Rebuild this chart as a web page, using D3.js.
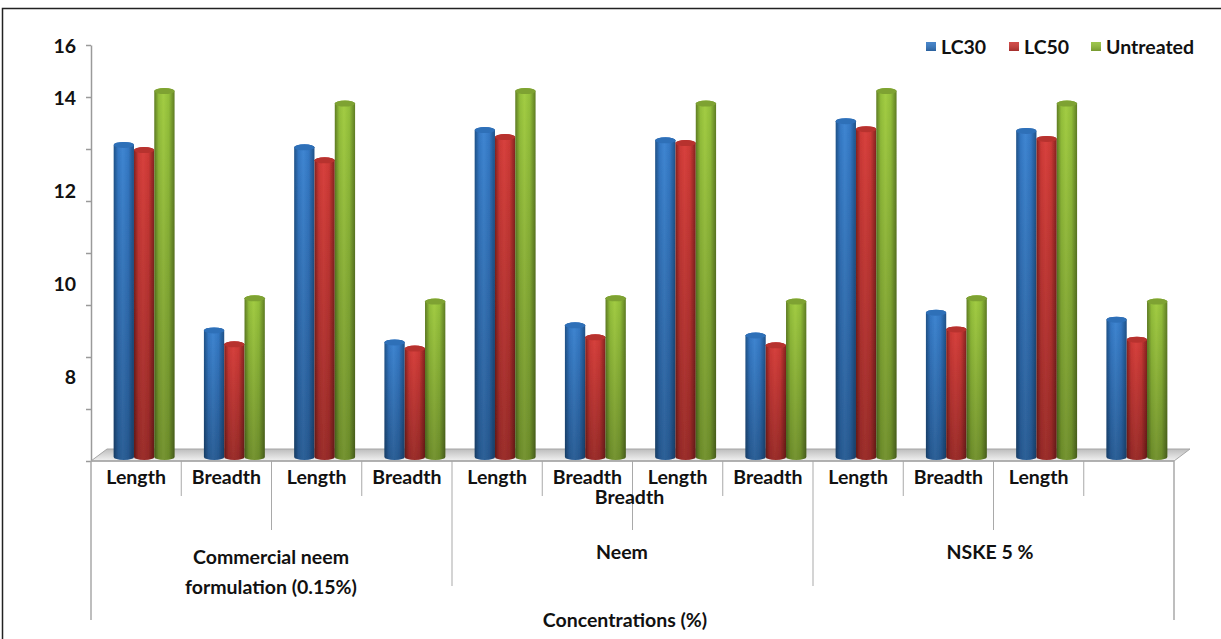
<!DOCTYPE html>
<html>
<head>
<meta charset="utf-8">
<script src="https://cdn.jsdelivr.net/npm/d3@7"></script>
<style>
  html, body { margin: 0; padding: 0; background: #fff; overflow: hidden; }
  svg { display: block; }
  text { font-family: Lato, "Open Sans", sans-serif; font-weight: 700; fill: #111; }
</style>
</head>
<body>
<svg id="chart"></svg>
<script>
// Values, one array per series
const categories = ['Length', 'Breadth', 'Length', 'Breadth', 'Length', 'Breadth',
  'Length', 'Breadth', 'Length', 'Breadth', 'Length', ''];
const lc30 = [12.97, 8.98, 12.92, 8.72, 13.29, 9.09, 13.07, 8.87, 13.48, 9.36, 13.27, 9.21];
const lc50 = [12.86, 8.68, 12.64, 8.59, 13.14, 8.83, 13.01, 8.66, 13.31, 9.00, 13.10, 8.78];
const untreated = [14.13, 9.67, 13.86, 9.60, 14.13, 9.67, 13.86, 9.60, 14.13, 9.67, 13.86, 9.60];

const seriesNames = ['LC30', 'LC50', 'Untreated'];
const seriesValues = [lc30, lc50, untreated];
const seriesColors = [
  { dark: '#1f5288', mid: '#3478c4', light: '#3f86d2', top: '#2f6fb8' },
  { dark: '#84221f', mid: '#cc3936', light: '#d8413d', top: '#b7322f' },
  { dark: '#5f7d24', mid: '#93bf3a', light: '#a3cd44', top: '#7ea232' },
];

// The printed labels are not evenly spread: 16 sits on the top tick
const yTickLabels = ['16', '14', '12', '10', '8'];
const yTickLabelAt = [15.12, 14, 12, 10, 8];
const axisMin = 6.17;
const axisMax = 15.12;
const tickCount = 8;

const groupLines = [['Commercial neem', 'formulation (0.15%)'], ['Neem'], ['NSKE 5 %']];
const axisTitle = 'Concentrations (%)';

const config = {
  width: 1221,
  height: 639,
  plot: { left: 91, right: 1174, top: 45, bottom: 461 },
  depth: { x: 16, y: 12 },
  barWidth: 20.3,
  barBase: 457,
  capRy: 3,
  fontSize: 19.5,
  groupCenters: [271, 622, 990],
  titleCenter: 625,
};

const svg = d3.select('#chart')
  .attr('width', config.width)
  .attr('height', config.height);

const xScale = d3.scaleBand()
  .domain(d3.range(categories.length))
  .range([config.plot.left, config.plot.right]);

const xInner = d3.scaleBand()
  .domain(d3.range(seriesNames.length))
  .range([0, config.barWidth * seriesNames.length]);

const yScale = d3.scaleLinear()
  .domain([axisMin, axisMax])
  .range([config.plot.bottom, config.plot.top]);

// Cylinder shading
const defs = svg.append('defs');
seriesColors.forEach((c, i) => {
  const grad = defs.append('linearGradient').attr('id', `bar-${i}`);
  [[0, c.dark], [0.22, c.mid], [0.45, c.light], [0.72, c.mid], [1, c.dark]].forEach(([o, col]) => {
    grad.append('stop').attr('offset', o).attr('stop-color', col);
  });
});
const shade = defs.append('linearGradient').attr('id', 'bar-shade').attr('x2', 0).attr('y2', 1);
shade.append('stop').attr('offset', 0).attr('stop-color', '#000').attr('stop-opacity', 0);
shade.append('stop').attr('offset', 1).attr('stop-color', '#000').attr('stop-opacity', 0.28);
const floorGrad = defs.append('linearGradient').attr('id', 'floor').attr('x2', 0).attr('y2', 1);
floorGrad.append('stop').attr('offset', 0).attr('stop-color', '#bdbdbd');
floorGrad.append('stop').attr('offset', 1).attr('stop-color', '#f2f2f2');
const legendGrad = defs.append('linearGradient').attr('id', 'swatch').attr('x2', 0).attr('y2', 1);
legendGrad.append('stop').attr('offset', 0).attr('stop-color', '#fff').attr('stop-opacity', 0.1);
legendGrad.append('stop').attr('offset', 1).attr('stop-color', '#000').attr('stop-opacity', 0.2);
// The reference is a soft scan, so take the hard edge off the cylinders
defs.append('filter').attr('id', 'soft')
  .append('feGaussianBlur').attr('stdDeviation', 0.5);

// Outer frame: only top and left edges fall inside the picture
svg.append('path')
  .attr('d', `M2.5,${config.height}V8.5H${config.width}`)
  .attr('fill', 'none')
  .attr('stroke', '#222')
  .attr('stroke-width', 1.5);

// Floor of the 3D plot
const { left, right, bottom } = config.plot;
svg.append('path')
  .attr('d', `M${left},${bottom}L${left + config.depth.x},${bottom - config.depth.y}`
    + `H${right + config.depth.x}L${right},${bottom}Z`)
  .attr('fill', 'url(#floor)')
  .attr('stroke', '#a6a6a6');

// Value axis
const yAxisTicks = d3.range(tickCount + 1).map((i) => axisMin + (i * (axisMax - axisMin)) / tickCount);
const yAxis = d3.axisLeft(yScale)
  .tickValues(yAxisTicks)
  .tickSize(5)
  .tickSizeOuter(0)
  .tickFormat('');
svg.append('g')
  .attr('class', 'axis y-axis')
  .attr('transform', `translate(${left},0)`)
  .call(yAxis)
  .call((g) => g.selectAll('line, path').attr('stroke', '#9a9a9a').attr('stroke-width', 1.5));

svg.selectAll('.y-label')
  .data(yTickLabels)
  .join('text')
  .attr('class', 'y-label')
  .attr('x', 76)
  .attr('y', (d, i) => yScale(yTickLabelAt[i]) + 1)
  .attr('dy', '0.35em')
  .attr('text-anchor', 'end')
  .attr('font-size', config.fontSize)
  .text((d) => d);

// Multi level category axis: separators of three lengths
const separators = d3.range(categories.length + 1).map((i) => {
  let end = 496;
  if (i % 2 === 0) end = 530;
  if (i % 4 === 0) end = 586;
  if (i % 12 === 0) end = 620;
  return { i, end };
});
svg.selectAll('.separator')
  .data(separators)
  .join('line')
  .attr('class', 'separator')
  .attr('x1', (d) => (d.i < categories.length ? xScale(d.i) : right))
  .attr('x2', (d) => (d.i < categories.length ? xScale(d.i) : right))
  .attr('y1', bottom)
  .attr('y2', (d) => d.end)
  .attr('stroke', '#a9a9a9')
  .attr('stroke-width', (d) => (d.i % 12 === 0 ? 1.5 : 1));

svg.append('line')
  .attr('x1', left).attr('x2', right)
  .attr('y1', bottom).attr('y2', bottom)
  .attr('stroke', '#a6a6a6')
  .attr('stroke-width', 1.5);

// Cylinders
const barPath = (x, yTop, w) => {
  const rx = w / 2;
  const ry = config.capRy;
  return `M${x},${yTop}V${config.barBase}A${rx},${ry} 0 0 0 ${x + w},${config.barBase}`
    + `V${yTop}A${rx},${ry} 0 0 0 ${x},${yTop}Z`;
};
const groupOffset = (xScale.bandwidth() - config.barWidth * seriesNames.length) / 2 + config.depth.x / 2;

const barData = categories.flatMap((c, i) => seriesValues.map((values, s) => ({ i, s, value: values[i] })));
const bars = svg.append('g').attr('class', 'marks')
  .attr('filter', 'url(#soft)')
  .selectAll('.bar')
  .data(barData)
  .join('g')
  .attr('class', 'bar')
  .attr('transform', (d) => `translate(${xScale(d.i) + groupOffset + xInner(d.s)},0)`);

bars.append('path')
  .attr('d', (d) => barPath(0, yScale(d.value), xInner.bandwidth()))
  .attr('fill', (d) => `url(#bar-${d.s})`);
bars.append('path')
  .attr('d', (d) => barPath(0, yScale(d.value), xInner.bandwidth()))
  .attr('fill', 'url(#bar-shade)');
bars.append('ellipse')
  .attr('cx', xInner.bandwidth() / 2)
  .attr('cy', (d) => yScale(d.value))
  .attr('rx', xInner.bandwidth() / 2)
  .attr('ry', config.capRy)
  .attr('fill', (d) => seriesColors[d.s].top);

// Category labels
svg.selectAll('.cat-label')
  .data(categories)
  .join('text')
  .attr('class', 'cat-label')
  .attr('x', (d, i) => xScale(i) + xScale.bandwidth() / 2)
  .attr('y', 477)
  .attr('dy', '0.35em')
  .attr('text-anchor', 'middle')
  .attr('font-size', config.fontSize)
  .text((d) => d);

// The last Breadth label dropped out of its slot in the original and sits over the separator
svg.append('text')
  .attr('x', xScale(6) - 3)
  .attr('y', 497)
  .attr('dy', '0.35em')
  .attr('text-anchor', 'middle')
  .attr('font-size', config.fontSize)
  .text('Breadth');

// Group labels
groupLines.forEach((lines, i) => {
  lines.forEach((line, l) => {
    svg.append('text')
      .attr('x', config.groupCenters[i])
      .attr('y', (lines.length > 1 ? 557 : 552) + l * 30)
      .attr('dy', '0.35em')
      .attr('text-anchor', 'middle')
      .attr('font-size', config.fontSize)
      .text(line);
  });
});

svg.append('text')
  .attr('x', config.titleCenter)
  .attr('y', 620)
  .attr('dy', '0.35em')
  .attr('text-anchor', 'middle')
  .attr('font-size', config.fontSize)
  .text(axisTitle);

// Legend
const legendX = [926, 1009, 1091];
const legend = svg.selectAll('.legend')
  .data(seriesNames)
  .join('g')
  .attr('class', 'legend')
  .attr('transform', (d, i) => `translate(${legendX[i]},42)`);
legend.append('rect')
  .attr('width', 10).attr('height', 9)
  .attr('fill', (d, i) => seriesColors[i].mid);
legend.append('rect')
  .attr('width', 10).attr('height', 9)
  .attr('fill', 'url(#swatch)');
legend.append('text')
  .attr('x', 15)
  .attr('y', 5)
  .attr('dy', '0.35em')
  .attr('font-size', config.fontSize)
  .text((d) => d);
</script>
</body>
</html>
